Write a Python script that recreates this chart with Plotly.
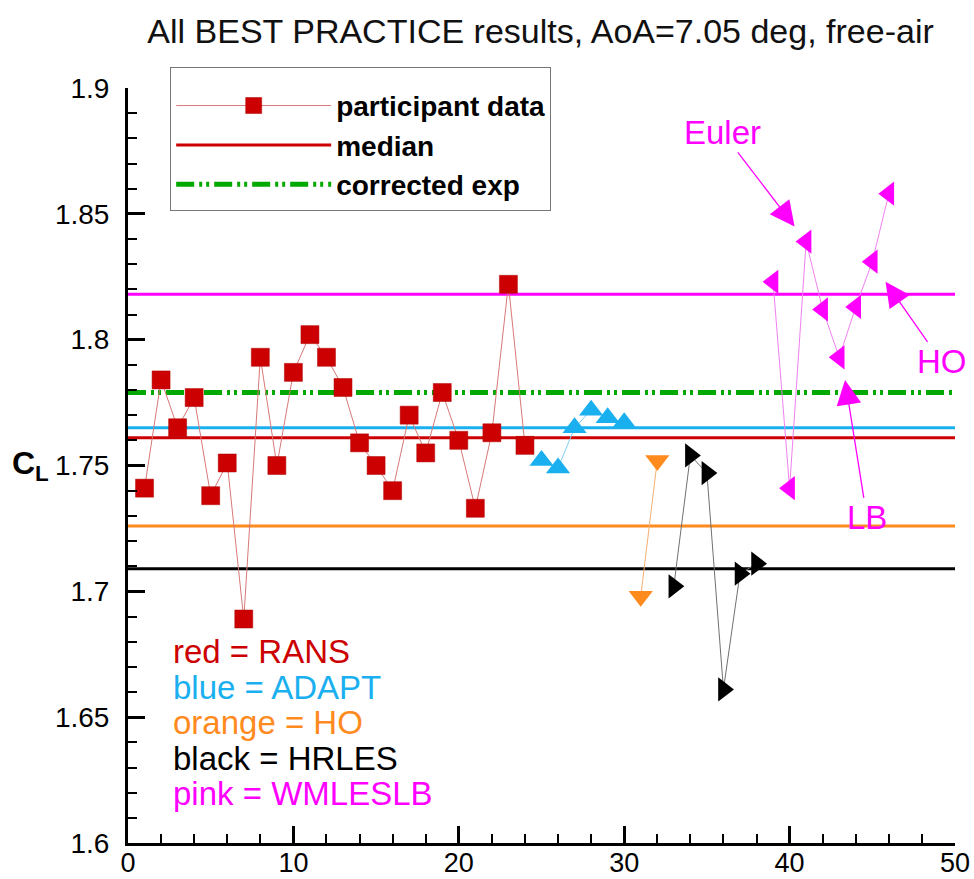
import plotly.graph_objects as go

# ---------------- data ----------------
rans_x = list(range(1, 25))
rans_y = [1.741, 1.784, 1.765, 1.777, 1.738, 1.751, 1.689, 1.793, 1.750, 1.787,
          1.802, 1.793, 1.781, 1.759, 1.750, 1.740, 1.770, 1.755, 1.779, 1.760,
          1.733, 1.763, 1.822, 1.758]
adapt_x = [25, 26, 27, 28, 29, 30]
adapt_y = [1.752, 1.749, 1.765, 1.772, 1.769, 1.767]
ho_x = [31, 32]
ho_y = [1.698, 1.752]
hrles_x = [33, 34, 35, 36, 37, 38]
hrles_y = [1.702, 1.754, 1.747, 1.661, 1.707, 1.711]
wmles_x = [39, 40, 41, 42, 43, 44, 45, 46]
wmles_y = [1.823, 1.741, 1.839, 1.812, 1.793, 1.813, 1.831, 1.858]

median_rans = 1.761
median_adapt = 1.765
median_ho = 1.726
median_hrles = 1.709
median_wmles = 1.818
corrected_exp = 1.779

x_range = [0, 50]
y_range = [1.6, 1.9]

title_text = "All BEST PRACTICE results, AoA=7.05 deg, free-air"
group_labels = ["red = RANS", "blue = ADAPT", "orange = HO", "black = HRLES", "pink = WMLESLB"]

RED = "#cc0000"
BLUE = "#1ab0f0"
ORANGE = "#ff8a1e"
BLACK = "#000000"
PINK = "#ff00ff"
GREEN = "#00a800"
FONT = "Liberation Sans, Arial, sans-serif"

fig = go.Figure()

# horizontal median / reference lines
def hline(y, color, width, name=None, dash="solid", show=False, rank=None):
    fig.add_trace(go.Scatter(x=x_range, y=[y, y], mode="lines", name=name,
                             line=dict(color=color, width=width, dash=dash),
                             showlegend=show, hoverinfo="skip",
                             legendrank=rank if rank is not None else 1000))

hline(median_wmles, PINK, 3)
hline(median_ho, ORANGE, 3)
hline(median_hrles, BLACK, 3)
hline(median_adapt, BLUE, 3)
hline(median_rans, RED, 3, name="median", show=True, rank=2)
hline(corrected_exp, GREEN, 5, name="corrected exp", dash="18px,5px,3px,4px,3px,5px",
      show=True, rank=3)

# data series
fig.add_trace(go.Scatter(x=rans_x, y=rans_y, mode="lines+markers", name="participant data",
                         line=dict(color="#d87878", width=1),
                         marker=dict(symbol="square", size=18, color=RED,
                                     line=dict(color="#b00000", width=0.5)),
                         showlegend=True, legendrank=1))
fig.add_trace(go.Scatter(x=adapt_x, y=adapt_y, mode="lines+markers",
                         line=dict(color="#7fd0f5", width=1),
                         marker=dict(symbol="triangle-up", size=21, color=BLUE),
                         showlegend=False))
fig.add_trace(go.Scatter(x=ho_x, y=ho_y, mode="lines+markers",
                         line=dict(color="#f5b070", width=1),
                         marker=dict(symbol="triangle-down", size=21, color=ORANGE),
                         showlegend=False))
fig.add_trace(go.Scatter(x=hrles_x, y=hrles_y, mode="lines+markers",
                         line=dict(color="#707070", width=1),
                         marker=dict(symbol="triangle-right", size=21, color=BLACK),
                         showlegend=False))
fig.add_trace(go.Scatter(x=wmles_x, y=wmles_y, mode="lines+markers",
                         line=dict(color="#f080f0", width=1),
                         marker=dict(symbol="triangle-left", size=21, color=PINK),
                         showlegend=False))

annotations = []
# group colour key
key_colors = [RED, BLUE, ORANGE, BLACK, PINK]
for i, (lab, col) in enumerate(zip(group_labels, key_colors)):
    annotations.append(dict(x=2.6, y=1.676 - i * 0.0141, xref="x", yref="y",
                            text=lab, showarrow=False, xanchor="left", yanchor="middle",
                            font=dict(family=FONT, size=33, color=col)))

# pink labels with arrows
arrow_common = dict(xref="x", yref="y", showarrow=True, arrowhead=2, arrowsize=3.8,
                    arrowwidth=1.3, arrowcolor=PINK,
                    font=dict(family=FONT, size=33, color=PINK))
annotations.append(dict(x=40.3, y=1.845, ax=-72, ay=-94, text="Euler", **arrow_common))
annotations.append(dict(x=45.8, y=1.823, ax=56, ay=80, text="HO", **arrow_common))
annotations.append(dict(x=43.35, y=1.784, ax=22, ay=138, text="LB", **arrow_common))

# C_L label
annotations.append(dict(x=-0.118, y=0.5, xref="paper", yref="paper", showarrow=False,
                        text="<b>C<sub>L</sub></b>", xanchor="center", yanchor="middle",
                        font=dict(family=FONT, size=32, color="black")))

fig.update_layout(
    width=974, height=879,
    margin=dict(l=128, r=19, t=88, b=36, autoexpand=False),
    paper_bgcolor="white", plot_bgcolor="white",
    title=dict(text=title_text, x=0.555, xanchor="center", y=0.965, yanchor="middle",
               font=dict(family=FONT, size=34, color="#111")),
    font=dict(family=FONT, color="black"),
    showlegend=True,
    legend=dict(x=0.051, y=1.028, xanchor="left", yanchor="top",
                bgcolor="white", bordercolor="#777", borderwidth=1,
                font=dict(family=FONT, size=28, color="black", weight="bold"),
                title=dict(text=" ", font=dict(size=10)),
                itemwidth=155, traceorder="normal"),
    annotations=annotations,
)

fig.update_xaxes(range=x_range, dtick=10, tick0=0, showgrid=False, zeroline=False,
                 automargin=False,
                 showline=True, linewidth=3, linecolor="black", mirror=False,
                 ticks="inside", ticklen=17, tickwidth=3, tickcolor="black",
                 ticklabelstandoff=-6,
                 tickfont=dict(family=FONT, size=27, color="black"),
                 minor=dict(dtick=2, ticks="inside", ticklen=9, tickwidth=1.5, tickcolor="black"))
fig.update_yaxes(range=y_range, dtick=0.05, tick0=1.6, showgrid=False, zeroline=False,
                 automargin=False,
                 showline=True, linewidth=3, linecolor="black", mirror=False,
                 ticks="inside", ticklen=17, tickwidth=3, tickcolor="black",
                 ticklabelstandoff=10,
                 tickfont=dict(family=FONT, size=28, color="black"),
                 minor=dict(dtick=0.01, ticks="inside", ticklen=9, tickwidth=1.5, tickcolor="black"))

fig.write_html("out.html")
